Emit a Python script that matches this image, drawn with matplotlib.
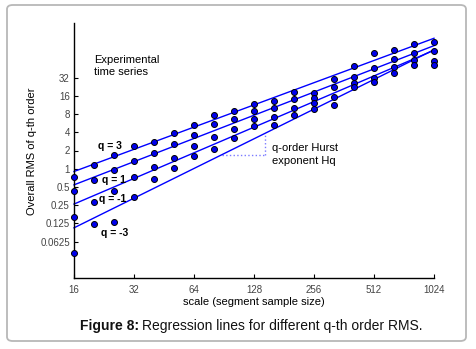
import numpy as np
import matplotlib
matplotlib.use("Agg")
import matplotlib.pyplot as plt
from matplotlib.patches import FancyBboxPatch

plt.rcParams['font.family'] = ['Liberation Sans', 'DejaVu Sans']

# scales (segment sample sizes): 16 * 2^(k/3)
scales = [16, 20.16, 25.40, 32, 40.32, 50.80, 64, 80.63, 101.59, 128,
          161.27, 203.19, 256, 322.54, 406.37, 512, 645.08, 812.75, 1024]

# log2 of overall RMS for each q order
log2_q3 = [-0.48, 0.22, 0.77, 1.22, 1.49, 1.97, 2.38, 2.95, 3.19, 3.55,
           3.73, 4.23, 4.18, 4.92, 5.63, 6.33, 6.54, 6.83, 6.93]
log2_q1 = [-1.24, -0.64, -0.09, 0.40, 0.89, 1.33, 1.84, 2.44, 2.72, 3.17,
           3.32, 3.81, 3.87, 4.50, 5.05, 5.54, 6.01, 6.38, 6.47]
log2_qm1 = [-2.66, -1.80, -1.24, -0.45, 0.09, 0.60, 1.22, 1.73, 2.19, 2.72,
            2.86, 3.35, 3.59, 3.95, 4.72, 4.99, 5.59, 5.96, 5.92]
log2_qm3 = [-4.61, -3.06, -2.94, -1.57, -0.55, 0.05, 0.69, 1.09, 1.68, 2.35,
            2.39, 2.95, 3.30, 3.52, 4.50, 4.77, 5.27, 5.69, 5.69]

series = [log2_q3, log2_q1, log2_qm1, log2_qm3]

xticks = [16, 32, 64, 128, 256, 512, 1024]
xticklabels = ['16', '32', '64', '128', '256', '512', '1024']
yticks = [0.0625, 0.125, 0.25, 0.5, 1, 2, 4, 8, 16, 32]
yticklabels = ['0.0625', '0.125', '0.25', '0.5', '1', '2', '4', '8', '16', '32']

W, H = 476, 349
fig = plt.figure(figsize=(W / 100, H / 100), dpi=100)
fig.patch.set_facecolor('white')

def fx(px):
    return px / W

def fy(py):
    return 1 - py / H

# rounded border
border = FancyBboxPatch((fx(7), fy(341)), fx(466) - fx(7), fy(5) - fy(341),
                        boxstyle="round,pad=0,rounding_size=0.012",
                        transform=fig.transFigure, facecolor='none',
                        edgecolor='#b8b8b8', linewidth=1.3, zorder=-1)
fig.patches.append(border)

ax = fig.add_axes([fx(74), fy(278), fx(434) - fx(74), fy(23) - fy(278)])
ax.set_facecolor('none')
ax.set_xscale('log', base=2)
ax.set_yscale('log', base=2)
ax.set_xlim(16, 1024)
ax.set_ylim(2 ** -6, 2 ** 8)

s = np.array(scales)
ls = np.log2(s)
fits = []
for ys in series:
    ys = np.array(ys)
    p = np.polyfit(ls, ys, 1)
    fits.append(p)
    xl = np.array([16, 1024])
    ax.plot(xl, 2 ** np.polyval(p, np.log2(xl)), color='#0000ff', lw=1.0,
            zorder=2, clip_on=False)
    ax.plot(s, 2 ** ys, 'o', color='#0000ee', markeredgecolor='black',
            markeredgewidth=0.7, markersize=4.3, zorder=3, clip_on=False)

# slope triangle under the q=-3 line
p = fits[3]
xa, xb = 88.4, 145.3
ya = 2 ** np.polyval(p, np.log2(xa))
yb = 2 ** np.polyval(p, np.log2(xb))
ax.plot([xa, xb], [ya, ya], ls=':', color='#7b7bff', lw=1.0, zorder=1)
ax.plot([xb, xb], [ya, yb], ls=':', color='#7b7bff', lw=1.0, zorder=1)

ax.set_xticks(xticks)
ax.set_xticklabels(xticklabels)
ax.set_yticks(yticks)
ax.set_yticklabels(yticklabels)
ax.minorticks_off()
ax.tick_params(direction='in', length=3, width=0.8, labelsize=7,
               labelcolor='#444444', color='black')
ax.tick_params(axis='x', pad=5)
ax.tick_params(axis='y', pad=3)
for sp in ['top', 'right']:
    ax.spines[sp].set_visible(False)
for sp in ['left', 'bottom']:
    ax.spines[sp].set_linewidth(1.0)

fig.text(fx(254), fy(302), 'scale (segment sample size)', ha='center',
         va='center', fontsize=8)
fig.text(fx(32), fy(151), 'Overall RMS of q-th order', ha='center',
         va='center', rotation=90, fontsize=8)

fig.text(fx(94), fy(66), 'Experimental\ntime series', ha='left', va='center',
         fontsize=8, linespacing=1.25)
fig.text(fx(272), fy(154.5), 'q-order Hurst\nexponent Hq', ha='left',
         va='center', fontsize=8, linespacing=1.45)

for lab, (px, py) in zip(['q = 3', 'q = 1', 'q = -1', 'q = -3'],
                         [(98, 146), (102, 180), (99, 199), (101, 233)]):
    fig.text(fx(px), fy(py), lab, ha='left', va='center', fontsize=7.5,
             fontweight='bold')

# caption
t1 = fig.text(fx(80), fy(326), 'Figure 8:', ha='left', va='center',
              fontsize=10, fontweight='bold', color='#111111')
fig.canvas.draw()
bb = t1.get_window_extent()
fig.text(bb.x1 / W + 3 / W, fy(326), 'Regression lines for different q-th order RMS.',
         ha='left', va='center', fontsize=10, color='#111111')

fig.savefig('out.png', dpi=100)
